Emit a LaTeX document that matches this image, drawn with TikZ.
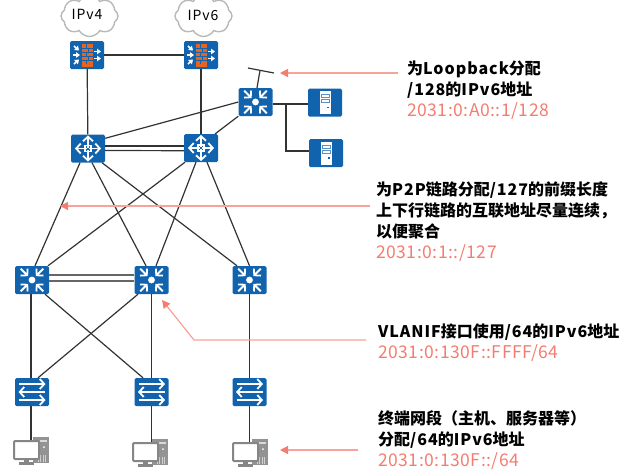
\documentclass[tikz,border=0pt]{standalone}
\usepackage{fontspec}
\setmainfont{Noto Sans CJK SC}
\newfontfamily\latfont[LetterSpace=6]{Noto Sans CJK SC}
\newfontfamily\addrfont[LetterSpace=3]{Noto Sans CJK SC}
\newcommand{\lat}[1]{{\latfont #1}}
\newcommand{\addr}[1]{{\mdseries\fontsize{17.5}{21}\addrfont\color{notered}#1}}
\usetikzlibrary{positioning,arrows.meta,shapes.symbols}
\definecolor{devblue}{HTML}{1263AE}
\definecolor{brick}{HTML}{E8641E}
\definecolor{notered}{HTML}{F47C70}
\definecolor{linegray}{HTML}{333333}

\tikzset{
	% white arrow used inside the device icons
	wh/.style={white, line width=1.6pt, -{Triangle[length=4pt,width=5.5pt]}},
	barb/.style={white, line width=1.8pt, -{Straight Barb[length=4.5pt,width=10pt,line width=1.8pt]}},
	% aggregation / core switch
	l3icon/.pic={
		\fill[white] (0,0) circle (3.4);
		\foreach \a in {45,135,225,315} {
			\draw[barb] (\a:16) -- (\a:5.5);
		}
	},
	routericon/.pic={
		\draw[white, line width=1.4pt] (-3,-3) rectangle (3,3);
		\foreach \a in {0,90,180,270} {
			\draw[barb] (\a:1) -- (\a:13);
		}
	},
	accessicon/.pic={
		\draw[barb] (-13,-8) -- (13.5,-8);
		\draw[barb] (13,0) -- (-13.5,0);
		\draw[barb] (-13,8) -- (13.5,8);
	},
	fwicon/.pic={
		\fill[brick] (-5.5,-11.5) rectangle (5.5,11.5);
		\foreach \y in {-7,-3,1,5} {
			\draw[devblue, line width=.5pt] (-5.5,\y) -- (5.5,\y);
		}
		\foreach \y/\x in {-9/0,-5/2,-1/0,3/2,7/0} {
			\draw[devblue, line width=.5pt] (\x-1,\y-2) -- (\x-1,\y+2);
		}
		\draw[wh] (-13,-9) -- (-8,-4.5);
		\draw[wh] (-14,0) -- (-7,0);
		\draw[wh] (-13,9) -- (-8,4.5);
		\draw[wh] (7,-3.5) -- (14,-3.5);
		\draw[wh] (7,3.5) -- (14,3.5);
	},
	servericon/.pic={
		\fill[white] (-5.5,-11.5) rectangle (5.5,11.5);
		\draw[devblue!70!white, line width=.8pt] (-4,-8) rectangle (4,-5);
		\draw[devblue!70!white, line width=.8pt] (-4,-3) rectangle (4,0);
		\fill[devblue] (2,4) rectangle (3.5,5.5);
	},
	pcicon/.pic={
		% tower
		\fill[gray!85!white] (2,-14) rectangle (18,12);
		\fill[gray!30] (9,-11) rectangle (16,-9);
		\fill[white] (13,-4) circle (1);
		\foreach \x in {7,9.5,12,14.5} {
			\draw[gray!35, line width=.7pt] (\x,4) -- (\x,11);
		}
		% screen
		\draw[gray!95, line width=2pt, rounded corners=1, fill=white] (-17,-10) rectangle (8,8);
		\fill[gray!95] (-7,9) rectangle (-2,11);
		\fill[gray!95] (-12,11) rectangle (3,14);
	}
}

\begin{document}
\begin{tikzpicture}[
	x=1pt, y=-1pt,
	device/.style={rectangle, rounded corners=1.5pt, draw=none, fill=devblue, minimum width=34pt, minimum height=28pt, inner sep=0pt},
	pcbox/.style={rectangle, minimum width=36pt, minimum height=22pt, inner sep=0pt},
	netcloud/.style={cloud, cloud puffs=8, cloud puff arc=120, aspect=1.4, draw=gray!55, line width=1.4pt, fill=white, minimum width=57pt, minimum height=41pt, inner sep=0pt},
	link/.style={draw=linegray, line width=1.2pt},
	dlink/.style={draw=linegray!75, line width=1.3pt},
	callout/.style={draw=notered!70, line width=1.2pt, -{Triangle[length=8pt,width=8pt,color=notered,fill=notered]}},
	note/.style={anchor=north west, align=left, inner sep=0pt, font=\fontsize{16}{21}\selectfont\bfseries, text=black},
]
\useasboundingbox (0,0) rectangle (628,475);

% clouds
\node [netcloud] (Cloud4) at (89.5,16) {};
\node [netcloud] (Cloud6) at (203.5,16) {};
\node [font=\fontsize{14}{14}\selectfont\latfont] (Txt4) at (87,14) {IPv4};
\node [font=\fontsize{14}{14}\selectfont\latfont] (Txt6) at (203,15) {IPv6};

% devices
\node [device] (Fw4) at (87,55) {};
\node [device] (Fw6) at (201,55) {};
\node [device] (Core) at (255.5,102) {};
\node [device] (Srv1) at (325,102.5) {};
\node [device] (Srv2) at (326,153) {};
\node [device] (Rt1) at (88,148.5) {};
\node [device] (Rt2) at (201,148) {};
\node [device] (Agg1) at (32,280) {};
\node [device] (Agg2) at (151.5,280) {};
\node [device] (Agg3) at (249.5,280) {};
\node [device] (Acc1) at (32,392) {};
\node [device] (Acc2) at (151.5,392) {};
\node [device] (Acc3) at (249.5,392) {};
\node [pcbox] (Pc1) at (31,451) {};
\node [pcbox] (Pc2) at (150,453) {};
\node [pcbox] (Pc3) at (250,453) {};

% links
\draw [link] (Fw4) -- (Fw6);
\draw [link] (Fw4) -- (Rt1);
\draw [link] (Fw6) -- (Rt2);
\draw [link] (Core.south west) -- ([xshift=-3pt]Rt2.north east);
\draw [link] (Core.west) -- ([yshift=-4pt]Rt1.north east);
\draw [link] ([yshift=2.5pt]Rt1.east) -- ([yshift=2pt]Rt2.west);
\draw [link] ([yshift=-2pt]Rt1.east) -- ([yshift=-2.7pt]Rt2.west);
\draw [dlink] ([yshift=5pt]Agg1.east) -- ([yshift=5pt]Agg2.west);
\draw [dlink] ([yshift=-1pt]Agg1.east) -- ([yshift=-1pt]Agg2.west);
\draw [link] ([xshift=-8pt]Rt1.south) -- ([xshift=3pt]Agg1.north);
\draw [link] ([xshift=4pt]Rt1.south) -- ([xshift=-5.5pt]Agg2.north);
\draw [link] ([xshift=14pt]Rt1.south) -- ([xshift=-12.5pt]Agg3.north);
\draw [link] ([xshift=-16pt]Rt2.south) -- ([xshift=16pt]Agg1.north);
\draw [link] ([xshift=-5pt]Rt2.south) -- ([xshift=4.5pt]Agg2.north);
\draw [link] ([xshift=6pt]Rt2.south) -- (Agg3.north);
\draw [link] ([xshift=-1pt]Agg1.south) -- ([xshift=-1pt]Acc1.north);
\draw [link] (Agg2) -- (Acc2);
\draw [link] (Agg3) -- (Acc3);
\draw [link] ([xshift=13pt]Agg1.south) -- ([xshift=-8.5pt]Acc2.north);
\draw [link] ([xshift=-13.5pt]Agg2.south) -- ([xshift=6pt]Acc1.north);
\draw [link] ([xshift=-1pt]Acc1.south) -- (Pc1.north);
\draw [link] (Acc2) -- ([xshift=1.5pt]Pc2.north);
\draw [link] (Acc3) -- ([xshift=-.5pt]Pc3.north);

% loopback bar and server uplinks
\coordinate (BarL) at (248,68);
\coordinate (BarR) at (274,73);
\coordinate (BarM) at (260,70.5);
\coordinate (Fork) at (286,104);
\draw [link] (BarL) -- (BarR);
\draw [link] ([xshift=1.5pt]Core.north) -- (BarM);
\draw [link] ([yshift=-2pt]Core.east) -- ([yshift=-1.5pt]Srv1.west);
\draw [link] (Fork) |- ([yshift=2pt]Srv2.west);

% icons on top of the boxes
\foreach \n in {Core,Agg1,Agg2,Agg3} { \pic at (\n) {l3icon}; }
\foreach \n in {Rt1,Rt2} { \pic at (\n) {routericon}; }
\foreach \n in {Acc1,Acc2,Acc3} { \pic at (\n) {accessicon}; }
\foreach \n in {Fw4,Fw6} { \pic at (\n) {fwicon}; }
\foreach \n in {Srv1,Srv2} { \pic at (\n) {servericon}; }
\foreach \n in {Pc1,Pc2,Pc3} { \pic at (\n) {pcicon}; }

% notes
\node [note] (NoteLo) at (407,61) {为\lat{Loopback}分配\\\lat{/128}的\lat{IPv6}地址\\\addr{2031:0:A0::1/128}};
\node [note] (NotePp) at (376,181) {为\lat{P2P}链路分配\lat{/127}的前缀长度\\上下行链路的互联地址尽量连续，\\以便聚合\\\addr{2031:0:1::/127}};
\node [note] (NoteVl) at (378,324) {\lat{VLANIF}接口使用\lat{/64}的\lat{IPv6}地址\\\addr{2031:0:130F::FFFF/64}};
\node [note] (NoteTm) at (378,410) {终端网段（主机、服务器等）\\分配\lat{/64}的\lat{IPv6}地址\\\addr{2031:0:130F::/64}};

% callouts
\coordinate (ArrLoS) at (398,73);
\coordinate (ArrLoE) at (280,73);
\coordinate (ArrPpS) at (370,206);
\coordinate (ArrPpE) at (60,206);
\coordinate (ArrVlS) at (366,340);
\coordinate (ArrVlB) at (194,340);
\coordinate (ArrVlE) at (162,300);
\coordinate (ArrTmS) at (358,450);
\coordinate (ArrTmE) at (280,450);
\draw [callout] (ArrLoS) -- (ArrLoE);
\draw [callout] (ArrPpS) -- (ArrPpE);
\draw [callout] (ArrVlS) -- (ArrVlB) -- (ArrVlE);
\draw [callout] (ArrTmS) -- (ArrTmE);
\end{tikzpicture}
\end{document}
